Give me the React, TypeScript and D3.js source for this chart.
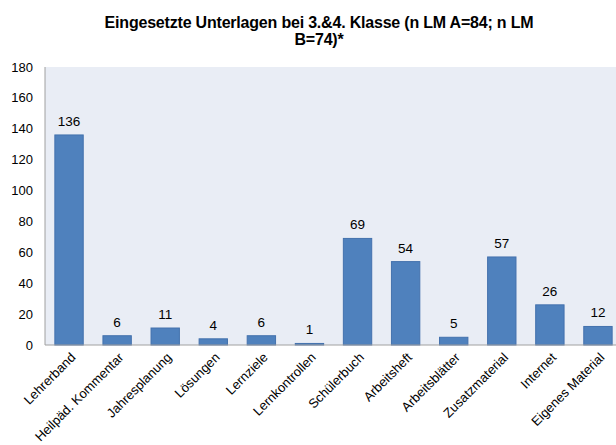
import { useEffect, useRef } from 'react';
import * as d3 from 'd3';

const categories = [
  'Lehrerband', 'Heilpäd. Kommentar', 'Jahresplanung', 'Lösungen', 'Lernziele',
  'Lernkontrollen', 'Schülerbuch', 'Arbeitsheft', 'Arbeitsblätter',
  'Zusatzmaterial', 'Internet', 'Eigenes Material',
];
const values = [136, 6, 11, 4, 6, 1, 69, 54, 5, 57, 26, 12];
const yTicks = [0, 20, 40, 60, 80, 100, 120, 140, 160, 180];
const titleLines = [
  'Eingesetzte Unterlagen bei 3.&4. Klasse (n LM A=84; n LM',
  'B=74)*',
];

export default function App() {
  const svgRef = useRef<SVGSVGElement>(null);

  useEffect(() => {
    if (!svgRef.current) return;
    const svg = d3.select(svgRef.current);
    svg.selectAll('*').remove();

    const margin = { top: 67, left: 45 };
    const plotW = 577;
    const plotH = 278;
    const font = 'Liberation Sans, Arial, sans-serif';

    const x = d3.scaleBand().domain(categories).range([0, plotW]).paddingInner(0.41).paddingOuter(0.205);
    const y = d3.scaleLinear().domain([0, 180]).range([plotH, 0]);

    // Title
    svg.append('g')
      .selectAll('text')
      .data(titleLines)
      .enter()
      .append('text')
      .attr('x', 319)
      .attr('y', (d, i) => 28 + i * 17)
      .attr('text-anchor', 'middle')
      .style('font-family', font)
      .style('font-size', '16px')
      .style('font-weight', 'bold')
      .style('letter-spacing', '-0.2px')
      .style('fill', '#000')
      .text(d => d);

    const g = svg.append('g').attr('transform', `translate(${margin.left},${margin.top})`);

    g.append('rect')
      .attr('width', plotW)
      .attr('height', plotH)
      .attr('fill', '#e9edf5');

    // Bars
    g.selectAll('.bar')
      .data(values)
      .enter()
      .append('rect')
      .attr('class', 'bar')
      .attr('x', (d, i) => x(categories[i])!)
      .attr('y', d => y(d))
      .attr('width', x.bandwidth())
      .attr('height', d => plotH - y(d))
      .attr('fill', '#4f81bd')
      .attr('stroke', '#4371ad')
      .attr('stroke-width', 1);

    // Value labels
    g.selectAll('.val')
      .data(values)
      .enter()
      .append('text')
      .attr('x', (d, i) => x(categories[i])! + x.bandwidth() / 2)
      .attr('y', d => y(d) - 9)
      .attr('text-anchor', 'middle')
      .style('font-family', font)
      .style('font-size', '13.5px')
      .style('fill', '#000')
      .text(d => d);

    // Axes lines
    g.append('line').attr('x1', 0).attr('x2', 0).attr('y1', 0).attr('y2', plotH)
      .attr('stroke', '#a0a0a0');
    g.append('line').attr('x1', 0).attr('x2', plotW).attr('y1', plotH).attr('y2', plotH)
      .attr('stroke', '#a0a0a0');

    // Y tick labels
    g.selectAll('.yt')
      .data(yTicks)
      .enter()
      .append('text')
      .attr('x', -12)
      .attr('y', d => y(d))
      .attr('dy', '0.35em')
      .attr('text-anchor', 'end')
      .style('font-family', font)
      .style('font-size', '13px')
      .style('fill', '#000')
      .text(d => d);

    // X labels rotated
    g.selectAll('.xt')
      .data(categories)
      .enter()
      .append('text')
      .attr('transform', d => `translate(${x(d)! + x.bandwidth() / 2 + 4},${plotH + 10}) rotate(-45)`)
      .attr('text-anchor', 'end')
      .attr('dy', '0.35em')
      .style('font-family', font)
      .style('font-size', '13px')
      .style('fill', '#000')
      .text(d => d);
  }, []);

  return (
    <div style={{ position: 'absolute', left: 0, top: 0, width: 616, height: 445, background: '#fff' }}>
      <svg ref={svgRef} width={616} height={445} />
    </div>
  );
}
